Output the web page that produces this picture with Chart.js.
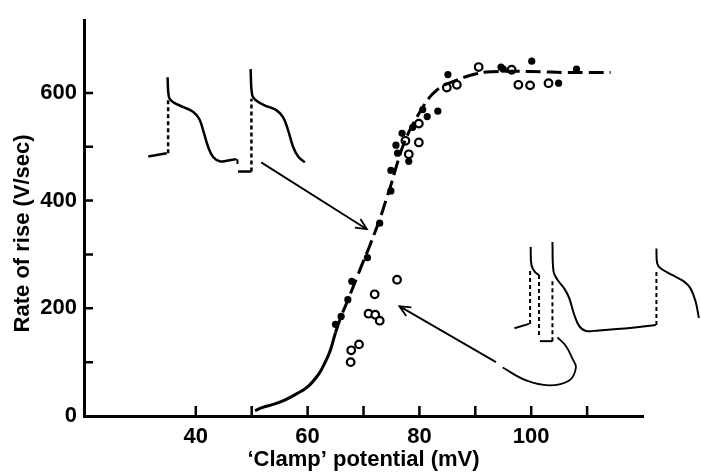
<!DOCTYPE html>
<html lang="en">
<head>
    <meta charset="UTF-8">
    <title>Rate of rise vs clamp potential</title>
    <script src="https://cdn.jsdelivr.net/npm/chart.js"></script>
    <style>
        html, body { margin: 0; padding: 0; background: #fff; }
        canvas { display: block; }
    </style>
</head>
<body>
    <canvas id="riseChart" width="701" height="474"></canvas>

    <script>
    // Data
    const filledX = [65.0, 66.0, 67.2, 67.9, 70.7, 72.9, 74.9, 74.9, 75.8, 76.1, 76.9, 78.1, 78.8, 80.6, 81.4, 83.3, 85.1, 94.6, 95.0, 100.1, 104.9, 108.1];
    const filledY = [170, 185, 216, 250, 294, 358, 418, 456, 503, 488, 525, 473, 536, 569, 556, 566, 634, 648, 644, 659, 618, 644];

    const openX = [67.7, 67.8, 69.2, 70.9, 72.1, 72.9, 72.0, 76.0, 77.5, 78.1, 79.9, 79.9, 84.9, 86.7, 90.6, 96.5, 97.7, 99.8, 103.1];
    const openY = [100, 122, 133, 190, 188, 177, 226, 253, 511, 486, 508, 543, 610, 615, 648, 643, 615, 614, 618];

    // fitted curve as drawn (solid below ~65 mV, dashed above)
    const curveX = [50.6, 52, 54, 56, 58, 60, 62, 63, 64, 65, 66, 67, 68, 69, 70, 71, 72, 73, 74, 75, 76, 77, 78, 79, 80, 81, 82, 83, 84, 86, 88, 90, 92, 95, 98, 102, 106, 110, 114.2];
    const curveY = [10, 16, 22, 30, 41, 54, 78, 97, 120, 155, 185, 210, 236, 262, 288, 313, 340, 368, 400, 432, 468, 500, 525, 545, 563, 580, 594, 604, 612, 621, 629, 635, 639, 640, 640, 639, 638, 638, 638];

    const xTicks = [40, 50, 60, 70, 80, 90, 100, 110];
    const xLabels = [40, 60, 80, 100];
    const yTicks = [0, 100, 200, 300, 400, 500, 600];
    const yLabels = [0, 200, 400, 600];

    // inset sketches of action potentials, in axis units
    const leftBase = [[31.5, 482], [34.8, 488]];
    const leftStep1 = [[35.05, 488], [35.05, 589]];
    const leftAP1 = [[34.95, 629], [35.2, 592], [35.9, 583], [37.7, 574], [39.5, 565], [40.6, 552], [41.3, 531], [42.2, 500], [43.1, 481], [44.3, 473], [45.5, 474], [47.3, 477]];
    const leftNotch = [[47.45, 477], [47.45, 468]];
    const leftHold = [[47.55, 454], [49.95, 454]];
    const leftStep2 = [[49.95, 454], [49.95, 589]];
    const leftAP2 = [[49.8, 644], [50.1, 595], [50.8, 586], [52.3, 577], [54.4, 568], [55.6, 555], [56.5, 531], [57.4, 500], [58.3, 482], [59.5, 471]];

    const rightBase = [[97.0, 163], [99.6, 171]];
    const rightStepA = [[99.8, 171], [99.8, 271]];
    const rightAPA = [[99.9, 314], [100.05, 280], [100.7, 267], [101.4, 262]];
    const rightStepB = [[101.4, 262], [101.4, 146]];
    const rightHold = [[101.55, 139], [103.8, 139]];
    const rightStepC = [[103.8, 139], [103.8, 250]];
    const rightAPB = [[103.8, 323], [104.0, 268], [104.7, 253], [105.9, 237], [106.8, 219], [107.7, 188], [108.6, 167], [109.8, 158], [112.1, 159], [118.1, 164], [122.3, 169]];
    const rightStepD = [[122.4, 169], [122.4, 271]];
    // runs off the right edge; listed from the bottom end up
    const rightAPC = [[130.0, 182], [129.4, 213], [128.5, 237], [127.3, 250], [125.2, 262], [123.2, 274], [122.55, 283], [122.4, 311]];

    // arrows
    const arrow1 = [[51.7, 471], [70.6, 347]];
    const arrow1Head = [[69.45, 366], [70.6, 347], [68.46, 350]];
    const arrow2Loop = [[104.7, 146], [106.2, 130], [107.4, 106], [108.0, 90], [106.8, 66], [103.2, 57], [99.1, 66], [94.9, 90]];
    const arrow2 = [[93.7, 100], [76.4, 204]];
    const arrow2Head = [[77.64, 185.5], [76.43, 203.7], [78.57, 201.7]];

    const ink = '#000';
    const fontFamily = "'Liberation Sans', Arial, sans-serif";

    function sketch(points, opts) {
        return Object.assign({
            type: 'scatter',
            data: points,
            showLine: true,
            pointRadius: 0,
            borderColor: ink,
            borderWidth: 2.5,
            tension: 0.4,
            clip: false
        }, opts || {});
    }

    // tick marks point into the plot, so draw them with the scales
    const inwardTicks = {
        id: 'inwardTicks',
        afterDatasetsDraw(chart) {
            const ctx = chart.ctx;
            const area = chart.chartArea;
            const x = chart.scales.x;
            const y = chart.scales.y;
            ctx.save();
            ctx.strokeStyle = ink;
            ctx.lineWidth = 2.5;
            ctx.beginPath();
            xTicks.forEach(v => {
                const px = x.getPixelForValue(v);
                ctx.moveTo(px, area.bottom);
                ctx.lineTo(px, area.bottom - 10);
            });
            yTicks.forEach(v => {
                if (v === 0) return;
                const py = y.getPixelForValue(v);
                ctx.moveTo(area.left, py);
                ctx.lineTo(area.left + 9, py);
            });
            ctx.stroke();
            ctx.restore();
        }
    };

    new Chart(document.getElementById('riseChart'), {
        type: 'scatter',
        data: {
            datasets: [
                {
                    data: curveX.map((v, i) => ({x: v, y: curveY[i]})),
                    showLine: true,
                    pointRadius: 0,
                    borderColor: ink,
                    borderWidth: 3,
                    tension: 0.4,
                    segment: {
                        borderDash: ctx => ctx.p0.parsed.x >= 65 ? [15, 6] : undefined
                    }
                },
                {
                    data: filledX.map((v, i) => ({x: v, y: filledY[i]})),
                    pointRadius: 3.6,
                    pointBackgroundColor: ink,
                    pointBorderColor: ink,
                    pointBorderWidth: 0
                },
                {
                    data: openX.map((v, i) => ({x: v, y: openY[i]})),
                    pointRadius: 3.8,
                    pointBackgroundColor: '#fff',
                    pointBorderColor: ink,
                    pointBorderWidth: 2.2
                },
                sketch(leftBase, {tension: 0}),
                sketch(leftStep1, {borderDash: [4, 3], tension: 0}),
                sketch(leftAP1),
                sketch(leftNotch, {tension: 0, borderWidth: 2}),
                sketch(leftHold, {tension: 0}),
                sketch(leftStep2, {borderDash: [4, 3], tension: 0}),
                sketch(leftAP2),
                sketch(rightBase, {tension: 0, borderWidth: 2}),
                sketch(rightStepA, {borderDash: [4, 3], tension: 0, borderWidth: 2}),
                sketch(rightAPA, {borderWidth: 2}),
                sketch(rightStepB, {borderDash: [4, 3], tension: 0, borderWidth: 2}),
                sketch(rightHold, {tension: 0, borderWidth: 2}),
                sketch(rightStepC, {borderDash: [4, 3], tension: 0, borderWidth: 2}),
                sketch(rightAPB, {borderWidth: 2}),
                sketch(rightStepD, {borderDash: [4, 3], tension: 0, borderWidth: 2}),
                sketch(rightAPC, {borderWidth: 2}),
                sketch(arrow1, {tension: 0, borderWidth: 1.8}),
                sketch(arrow1Head, {tension: 0, borderWidth: 1.8}),
                sketch(arrow2Loop, {borderWidth: 1.8}),
                sketch(arrow2, {tension: 0, borderWidth: 1.8}),
                sketch(arrow2Head, {tension: 0, borderWidth: 1.8})
            ]
        },
        options: {
            responsive: false,
            animation: false,
            layout: {
                padding: {left: 0, right: 58, top: 15, bottom: 0}
            },
            plugins: {
                legend: {display: false},
                tooltip: {enabled: false}
            },
            scales: {
                x: {
                    type: 'linear',
                    min: 20,
                    max: 120,
                    afterFit: scale => { scale.height = 58; },
                    afterBuildTicks: scale => { scale.ticks = xTicks.map(v => ({value: v})); },
                    grid: {display: false, drawTicks: false},
                    border: {display: true, color: ink, width: 3},
                    ticks: {
                        color: ink,
                        padding: 8,
                        maxRotation: 0,
                        autoSkip: false,
                        font: {family: fontFamily, size: 22, weight: 'bold'},
                        callback: v => xLabels.includes(v) ? String(v) : ''
                    },
                    title: {
                        display: true,
                        text: '\u2018Clamp\u2019 potential (mV)',
                        color: ink,
                        padding: {top: 0, bottom: 1},
                        font: {family: fontFamily, size: 22, weight: 'bold'}
                    }
                },
                y: {
                    type: 'linear',
                    min: 0,
                    max: 735,
                    afterFit: scale => { scale.width = 84; },
                    afterBuildTicks: scale => { scale.ticks = yTicks.map(v => ({value: v})); },
                    grid: {display: false, drawTicks: false},
                    border: {display: true, color: ink, width: 3},
                    ticks: {
                        color: ink,
                        padding: 7,
                        autoSkip: false,
                        font: {family: fontFamily, size: 22, weight: 'bold'},
                        callback: v => yLabels.includes(v) ? String(v) : ''
                    },
                    title: {
                        display: true,
                        // trailing spaces nudge the centred title down, as in the original
                        text: 'Rate of rise (V/sec)     ',
                        color: ink,
                        padding: {top: 10, bottom: 0},
                        font: {family: fontFamily, size: 22, weight: 'bold'}
                    }
                }
            }
        },
        plugins: [inwardTicks]
    });
    </script>
</body>
</html>
